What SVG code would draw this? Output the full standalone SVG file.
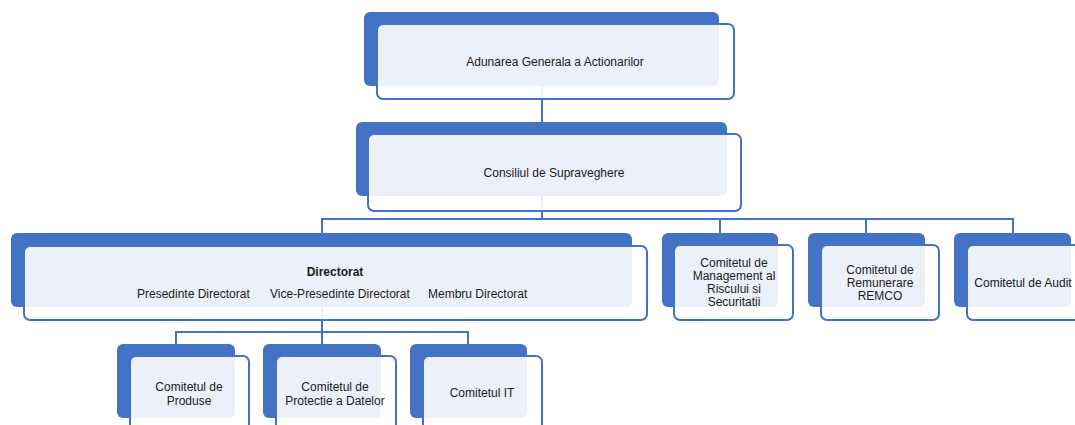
<svg xmlns="http://www.w3.org/2000/svg" width="1075" height="425" viewBox="0 0 1075 425">
<style>
.bk{fill:#4472C4}
.fr{fill:#ffffff;fill-opacity:0.9;stroke:#4472C4;stroke-width:2}
.ln{fill:none;stroke:#4472C4;stroke-width:2}
text{font-family:"Liberation Sans",Arial,sans-serif;font-size:12px;fill:#1a1a1a;text-anchor:middle}
.b{font-weight:bold}
</style>
<rect width="1075" height="425" fill="#ffffff"/>
<g id="connectors">
<path class="ln" d="M542,86V122"/>
<path class="ln" d="M542,196V219M322,233V219H1013V233M720,219V233M866,219V233"/>
<path class="ln" d="M322,307V332M176,344V332H468V344M322,332V344"/>
</g>
<g id="n-aga">
<rect class="bk" x="364" y="12" width="355" height="74" rx="6"/>
<rect class="fr" x="377" y="24" width="357" height="75" rx="6"/>
<text x="555" y="66">Adunarea Generala a Actionarilor</text>
</g>
<g id="n-cs">
<rect class="bk" x="356" y="122" width="371" height="74" rx="6"/>
<rect class="fr" x="368" y="134" width="373" height="77" rx="6"/>
<text x="554" y="177">Consiliul de Supraveghere</text>
</g>
<g id="n-dir">
<rect class="bk" x="11" y="233" width="621" height="74" rx="6"/>
<rect class="fr" x="24" y="246" width="623" height="74" rx="6"/>
<text class="b" x="335" y="276">Directorat</text>
<text style="text-anchor:start" y="298"><tspan x="137">Presedinte Directorat</tspan><tspan x="270">Vice-Presedinte Directorat</tspan><tspan x="428">Membru Directorat</tspan></text>
</g>
<g id="n-mgmt">
<rect class="bk" x="662" y="233" width="116" height="74" rx="6"/>
<rect class="fr" x="674" y="245" width="119" height="75" rx="6"/>
<text x="734" y="267">Comitetul de</text>
<text x="734" y="280">Management al</text>
<text x="734" y="293">Riscului si</text>
<text x="734" y="306">Securitatii</text>
</g>
<g id="n-remco">
<rect class="bk" x="808" y="233" width="117" height="74" rx="6"/>
<rect class="fr" x="821" y="245" width="118" height="75" rx="6"/>
<text x="880" y="274">Comitetul de</text>
<text x="880" y="287">Remunerare</text>
<text x="880" y="300">REMCO</text>
</g>
<g id="n-audit">
<rect class="bk" x="954" y="233" width="117" height="74" rx="6"/>
<rect class="fr" x="967" y="245" width="118" height="75" rx="6"/>
<text x="1023" y="287">Comitetul de Audit</text>
</g>
<g id="n-produse">
<rect class="bk" x="117" y="344" width="118" height="74" rx="6"/>
<rect class="fr" x="130" y="356" width="119" height="75" rx="6"/>
<text x="189" y="391">Comitetul de</text>
<text x="189" y="405">Produse</text>
</g>
<g id="n-protectie">
<rect class="bk" x="263" y="344" width="118" height="74" rx="6"/>
<rect class="fr" x="276" y="356" width="120" height="75" rx="6"/>
<text x="335" y="391">Comitetul de</text>
<text x="335" y="405">Protectie a Datelor</text>
</g>
<g id="n-it">
<rect class="bk" x="410" y="344" width="117" height="74" rx="6"/>
<rect class="fr" x="423" y="356" width="119" height="75" rx="6"/>
<text x="482" y="397">Comitetul IT</text>
</g>
</svg>
